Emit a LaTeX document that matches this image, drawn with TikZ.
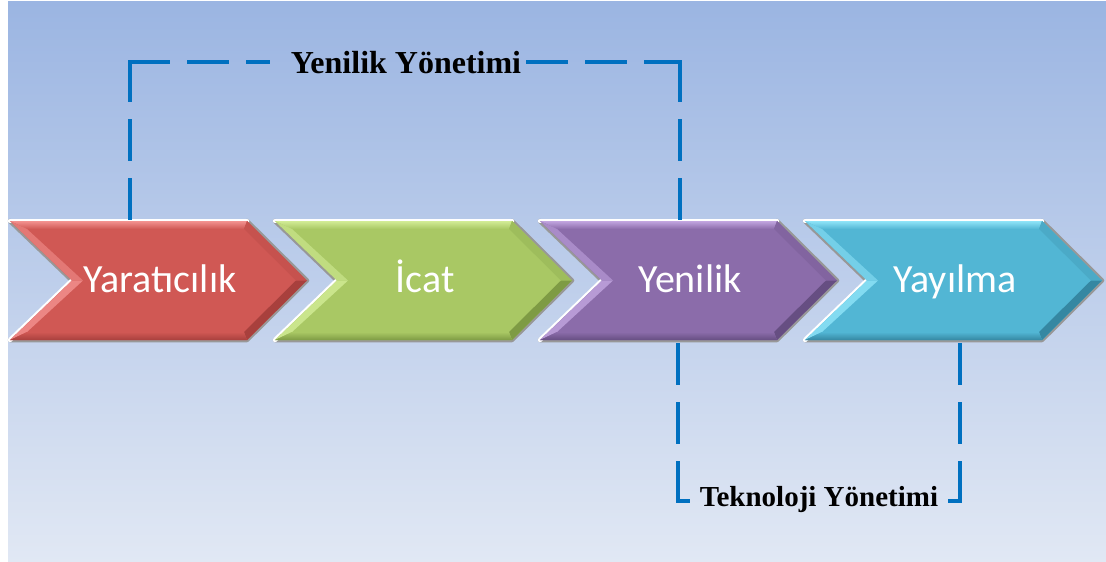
\documentclass[tikz,border=0pt]{standalone}
\usepackage{fontspec}
\newfontfamily\carl{Carlito}
\newfontfamily\tnr{Liberation Serif}
\definecolor{bgtop}{HTML}{9BB5E2}
\definecolor{bgbot}{HTML}{E1E8F4}
\definecolor{dblue}{HTML}{0070C0}
\definecolor{edgegray}{HTML}{989898}
\definecolor{rmain}{HTML}{D05854}
\definecolor{rlight}{HTML}{F39290}
\definecolor{rdark}{HTML}{A8403D}
\definecolor{gmain}{HTML}{A9C864}
\definecolor{glight}{HTML}{D2EC96}
\definecolor{gdark}{HTML}{7E9B44}
\definecolor{pmain}{HTML}{8B6CAA}
\definecolor{plight}{HTML}{C2A5E0}
\definecolor{pdark}{HTML}{664E82}
\definecolor{cmain}{HTML}{52B6D4}
\definecolor{clight}{HTML}{8FE4F8}
\definecolor{cdark}{HTML}{3587A2}
\tikzset{
  chevtext/.style={text=white,font=\carl\fontsize{40}{48}\selectfont,anchor=base,inner sep=0pt},
  mgmttext/.style={text=black,font=\tnr\bfseries\fontsize{32}{38}\selectfont,anchor=base,inner sep=0pt},
  techtext/.style={text=black,font=\tnr\bfseries\fontsize{29}{34}\selectfont,anchor=base,inner sep=0pt},
  bracket/.style={draw=dblue,line width=4.5pt,dash pattern=on 38pt off 21pt,line cap=rect},
  rimwhite/.style={draw=white,line width=4.5pt,line join=round,line cap=round},
  rimgray/.style={draw=edgegray,line width=4.5pt,line join=round,line cap=round}
}
\newcommand\mychev[6]{%
\begin{scope}[shift={(#2,0)}]
\coordinate (#1o1) at (0,221);
\coordinate (#1o2) at (237,221);
\coordinate (#1o3) at (297,280.5);
\coordinate (#1o4) at (237,340);
\coordinate (#1o5) at (0,340);
\coordinate (#1o6) at (62,280.5);
\coordinate (#1i1) at (17,229);
\coordinate (#1i2) at (234,229);
\coordinate (#1i3) at (286,280.5);
\coordinate (#1i4) at (234,332);
\coordinate (#1i5) at (17,332);
\coordinate (#1i6) at (73,280.5);
\draw[rimgray] (#1o6) -- (#1o1);
\draw[rimgray] (#1o2) -- (#1o3) -- (#1o4) -- (#1o5);
\draw[rimwhite] (#1o1) -- (#1o2);
\draw[rimwhite] (#1o5) -- (#1o6);
\fill[#3] (#1o1) -- (#1o2) -- (#1o3) -- (#1o4) -- (#1o5) -- (#1o6) -- cycle;
\shade[top color=#4,bottom color=#3] (#1o1) -- (#1o2) -- (#1i2) -- (#1i1) -- cycle;
\fill[#4!55!#3] (#1o6) -- (#1o1) -- (#1i1) -- (#1i6) -- cycle;
\fill[#4!80!#3] (#1o5) -- (#1o6) -- (#1i6) -- (#1i5) -- cycle;
\fill[#3!75!#5] (#1o2) -- (#1o3) -- (#1i3) -- (#1i2) -- cycle;
\fill[#5] (#1o3) -- (#1o4) -- (#1i4) -- (#1i3) -- cycle;
\shade[top color=#3,bottom color=#5] (#1i5) -- (#1i4) -- (#1o4) -- (#1o5) -- cycle;
\node[chevtext] (#1) at (150,292) {#6};
\end{scope}}
\begin{document}
\begin{tikzpicture}[x=1pt,y=-1pt]
\useasboundingbox (0,0) rectangle (1106,562);
\shade[top color=bgtop,bottom color=bgbot] (8,1) rectangle (1106,562);
% chevrons
\mychev{ca}{10}{rmain}{rlight}{rdark}{Yaratıcılık}
\mychev{cb}{275}{gmain}{glight}{gdark}{İcat}
\mychev{cc}{540}{pmain}{plight}{pdark}{Yenilik}
\mychev{cd}{805}{cmain}{clight}{cdark}{Yayılma}
% top bracket
\node[mgmttext] (ym) at (406,73) {Yenilik Yönetimi};
\coordinate (a1) at (130,219);
\coordinate (a2) at (130,62);
\coordinate (tl) at (268,62);
\coordinate (tr) at (528,62);
\coordinate (a3) at (680,62);
\coordinate (a4) at (680,219);
\draw[bracket] (a2) -- (a1);
\draw[bracket] (a2) -- (tl);
\draw[bracket] (tr) -- (a3);
\draw[bracket] (a3) -- (a4);
% bottom bracket
\node[techtext] (tm) at (819,506) {Teknoloji Yönetimi};
\coordinate (b1) at (678,343);
\coordinate (b2) at (678,501);
\coordinate (b3) at (688,501);
\coordinate (b4) at (950,501);
\coordinate (b5) at (960,501);
\coordinate (b6) at (960,343);
\draw[bracket] (b2) -- (b1);
\draw[bracket] (b2) -- (b3);
\draw[bracket] (b5) -- (b4);
\draw[bracket] (b5) -- (b6);
\end{tikzpicture}
\end{document}
